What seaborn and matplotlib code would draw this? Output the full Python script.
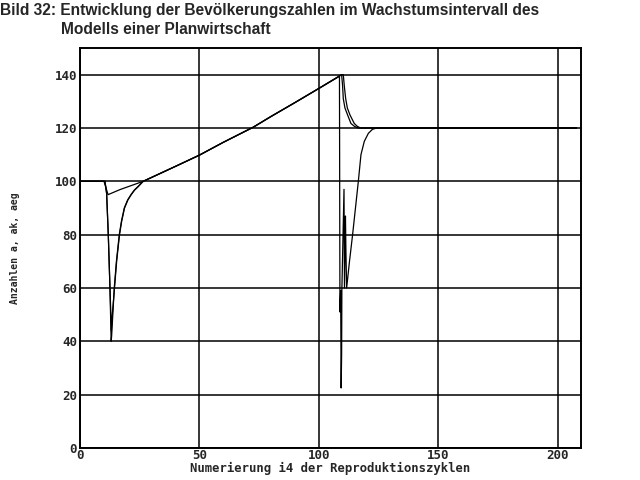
import pandas as pd
import matplotlib
matplotlib.use("Agg")
import matplotlib.pyplot as plt
import seaborn as sns

# series a: small dip, growth ramp, decay to new level
a_x = [0, 10.1, 11.8, 16.8, 26.5, 40, 50, 60, 72.6, 80, 90, 100, 109.6,
       110.0, 110.3, 111.0, 112.1, 113.5, 115.0, 116.5, 208]
a_y = [100, 100, 95, 96.9, 100, 105.6, 109.8, 114.6, 120.3, 124.3, 129.5, 134.8, 140,
       136, 131, 127.5, 124.9, 121.7, 120.6, 120, 120]

# series ak: deep dips at both disturbances
ak_x = [0, 10.5, 11.2, 11.9, 12.6, 13.1, 13.3, 14.4, 15.3, 16.5, 17.4, 18.6, 20.0,
        21.4, 22.8, 24.3, 26.5,
        40, 50, 60, 72.6, 80, 90, 100, 108.7,
        108.9, 109.2, 109.4, 109.6, 109.7, 110.6, 110.8, 111.2, 111.4, 111.7,
        112.9, 114.2, 115.4, 116.6, 117.7, 119.1, 120.8, 122.5, 124.3, 208]
ak_y = [100, 100, 95.5, 80, 60, 40, 42, 60, 70, 80, 85, 90, 93,
        95, 96.7, 98, 100,
        105.6, 109.8, 114.6, 120.3, 124.3, 129.5, 134.8, 139.4,
        51, 59, 22.5, 35, 59, 97, 60, 87, 74, 60,
        70, 80, 90, 100, 110, 115, 118, 119.5, 120, 120]

# series aeg
aeg_x = [0, 10.5, 11.2, 11.9, 12.6, 13.2, 13.4, 14.5, 15.4, 16.6, 17.5, 18.7, 20.1,
         21.5, 22.9, 24.4, 26.5,
         40, 50, 60, 72.6, 80, 90, 100, 109.6, 110.3,
         110.7, 111.3, 112.0, 113.1, 114.9, 116.2, 117.5, 208]
aeg_y = [100, 100, 95.5, 80, 60, 44, 48, 60, 70, 80, 85, 90, 93,
         95, 96.7, 98, 100,
         105.6, 109.8, 114.6, 120.3, 124.3, 129.5, 134.8, 140, 140,
         136, 131, 127.5, 124.9, 121.7, 120.6, 120, 120]

x_ticks = [0, 50, 100, 150, 200]
y_ticks = [0, 20, 40, 60, 80, 100, 120, 140]

df = pd.concat([
    pd.DataFrame({"i4": a_x, "wert": a_y, "reihe": "a"}),
    pd.DataFrame({"i4": ak_x, "wert": ak_y, "reihe": "ak"}),
    pd.DataFrame({"i4": aeg_x, "wert": aeg_y, "reihe": "aeg"}),
], ignore_index=True)

sns.set_style("white")
plt.rcParams['font.family'] = ['DejaVu Sans Mono']

fig = plt.figure(figsize=(6.4, 4.8), dpi=100)
ax = fig.add_axes([0.1248, 0.0667, 0.7825, 0.8333])

sns.lineplot(data=df, x="i4", y="wert", hue="reihe", estimator=None, sort=False,
             palette={"a": "black", "ak": "black", "aeg": "black"},
             linewidth=0.9, legend=False, ax=ax, zorder=3)

ax.set_xlim(0, 209.7)
ax.set_ylim(0, 150)
ax.set_xticks(x_ticks)
ax.set_yticks(y_ticks)
ax.grid(True, color="black", linewidth=1.1)
for spine in ax.spines.values():
    spine.set_color("black")
    spine.set_linewidth(1.4)
ax.tick_params(length=0, pad=2, labelsize=9)
ax.tick_params(axis="x", pad=1)
for lbl in ax.get_xticklabels() + ax.get_yticklabels():
    lbl.set_fontweight("bold")

ax.set_xlabel("Numerierung i4 der Reproduktionszyklen", fontsize=8.8,
              fontweight="bold", labelpad=0)
ax.set_ylabel("Anzahlen a, ak, aeg", fontsize=7, fontweight="bold", labelpad=25)

# title in two lines, left aligned
fig.text(0.0, 0.993, "Bild 32: Entwicklung der Bevölkerungszahlen im Wachstumsintervall des",
         ha="left", va="top", fontsize=11.2, fontweight="bold", family="Liberation Sans")
fig.text(61 / 640, 0.955, "Modells einer Planwirtschaft",
         ha="left", va="top", fontsize=11.2, fontweight="bold", family="Liberation Sans")

plt.savefig("out.png", dpi=100)
plt.close()
